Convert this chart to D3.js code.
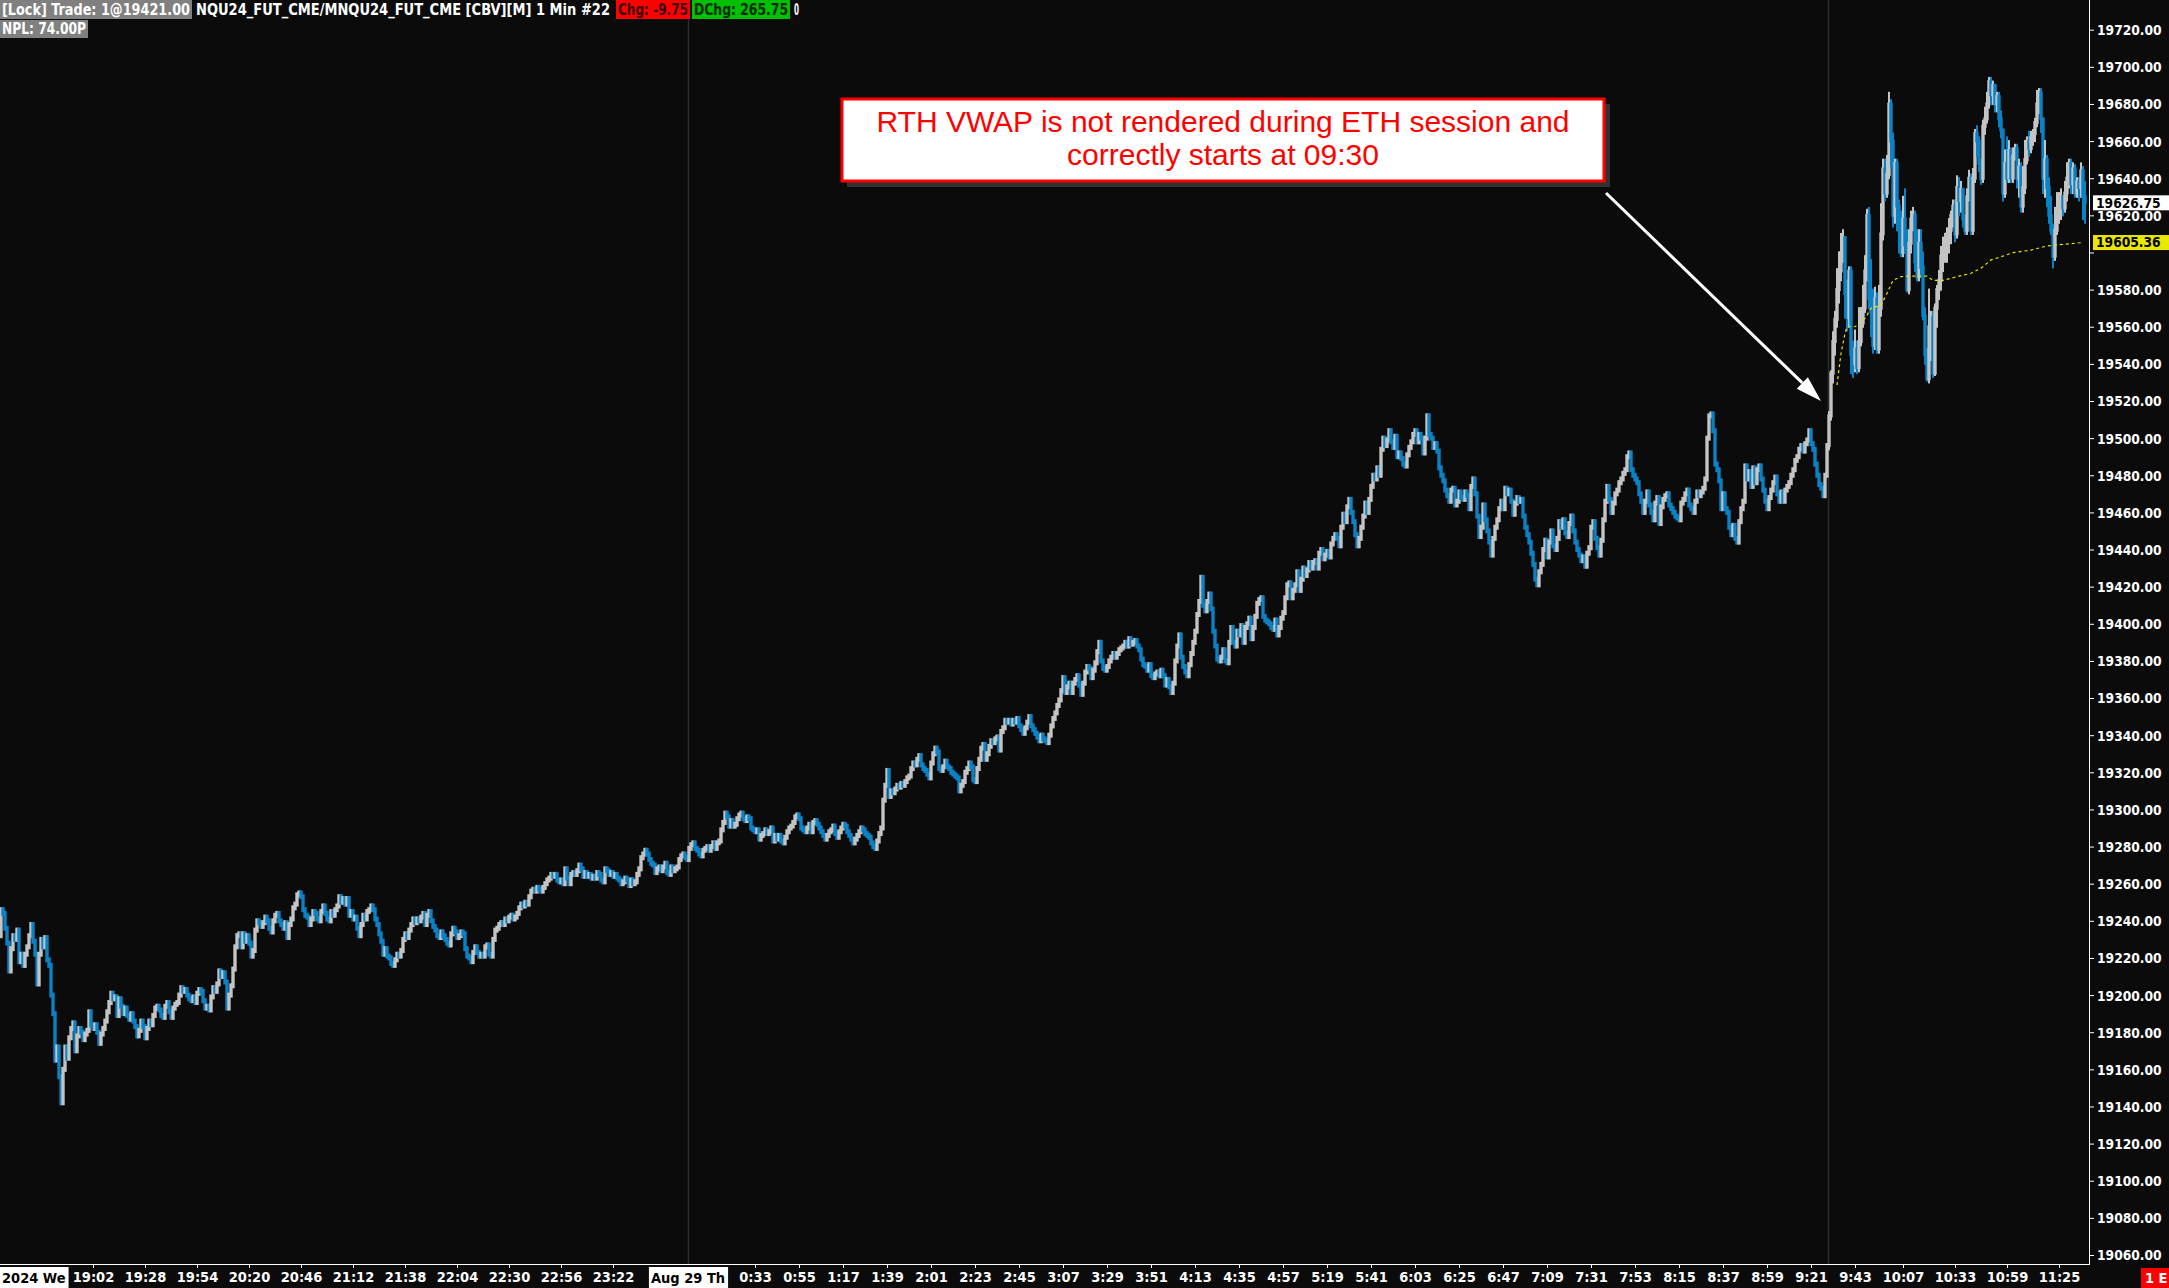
<!DOCTYPE html>
<html>
<head>
<meta charset="utf-8">
<script src="https://cdn.jsdelivr.net/npm/d3@7/dist/d3.min.js"></script>
<style>
  html, body { margin: 0; padding: 0; background: #0b0b0b; overflow: hidden; }
  svg { display: block; }
  .cond { font-family: "DejaVu Sans", Verdana, sans-serif; font-stretch: condensed; font-weight: bold; }
</style>
</head>
<body>
<div id="chart"></div>
<script>
// ---- data: 1 min closes, NQU24, Aug 28 18:16 -> Aug 29 11:38 ----
const firstOpen = 19232;
const sessionStart = "18:16";

const close1800 = [19246,19244,19236,19228,19213,19225,19232,19230,19235,19218,
  19222,19216,19222,19226,19232,19238,19229,19222,19206,19222,
  19230,19226,19231,19219,19216,19200,19190,19165,19172,19156,
  19142,19160,19172,19166,19177,19182,19185,19170,19178,19182,
  19180,19176,19179,19181];
const close1900 = [19191,19184,19182,19184,19180,19174,19179,19182,19186,19191,
  19196,19201,19198,19199,19189,19198,19194,19190,19193,19189,
  19187,19190,19186,19183,19178,19181,19186,19183,19177,19182,
  19186,19184,19189,19193,19194,19192,19189,19188,19194,19196,
  19191,19188,19193,19195,19196,19200,19204,19202,19203,19200,
  19198,19197,19199,19196,19201,19203,19202,19197,19193,19194];
const close2000 = [19192,19199,19204,19202,19206,19213,19210,19212,19207,19193,
  19200,19205,19214,19226,19232,19233,19226,19233,19229,19232,
  19228,19221,19224,19235,19240,19239,19237,19239,19242,19240,
  19236,19234,19240,19243,19244,19240,19238,19236,19239,19231,
  19238,19241,19247,19249,19254,19255,19253,19246,19243,19242,
  19238,19241,19245,19244,19241,19240,19245,19248,19244,19241];
const close2100 = [19240,19245,19243,19246,19248,19253,19250,19252,19249,19252,
  19243,19245,19241,19242,19236,19232,19238,19243,19241,19245,
  19246,19248,19246,19241,19238,19233,19229,19222,19225,19221,
  19220,19217,19216,19219,19222,19221,19224,19230,19233,19231,
  19235,19238,19241,19239,19241,19240,19242,19244,19238,19243,
  19245,19240,19237,19235,19232,19231,19234,19232,19230,19228];
const close2200 = [19227,19233,19236,19234,19231,19232,19234,19233,19225,19221,
  19220,19218,19223,19226,19223,19221,19222,19221,19226,19227,
  19222,19221,19230,19235,19236,19238,19239,19238,19241,19240,
  19242,19243,19241,19242,19244,19247,19249,19248,19250,19249,
  19253,19256,19257,19256,19258,19257,19256,19258,19260,19262,
  19263,19265,19264,19265,19262,19261,19262,19260,19268,19263];
const close2300 = [19260,19265,19266,19265,19267,19270,19268,19264,19266,19264,
  19265,19263,19264,19263,19266,19265,19262,19261,19268,19267,
  19265,19266,19264,19265,19263,19262,19260,19261,19263,19262,
  19259,19262,19260,19261,19265,19268,19274,19276,19278,19276,
  19273,19271,19270,19266,19268,19269,19267,19269,19271,19266,
  19265,19269,19267,19268,19269,19273,19275,19276,19274,19273];
const close0000 = [19279,19281,19282,19279,19278,19276,19275,19278,19279,19280,
  19278,19280,19282,19279,19282,19283,19289,19293,19298,19296,
  19291,19294,19291,19292,19295,19297,19298,19295,19294,19296,
  19295,19290,19289,19288,19289,19284,19286,19287,19289,19287,
  19288,19290,19283,19286,19284,19286,19283,19282,19285,19288,
  19290,19291,19293,19296,19297,19295,19290,19289,19288,19290];
const close0100 = [19292,19288,19293,19294,19292,19290,19288,19286,19284,19286,
  19288,19289,19291,19287,19285,19288,19290,19292,19291,19288,
  19286,19284,19282,19284,19286,19288,19290,19289,19287,19286,
  19285,19282,19280,19279,19283,19287,19290,19305,19313,19321,
  19307,19310,19309,19311,19313,19312,19314,19313,19315,19317,
  19318,19322,19325,19324,19327,19329,19324,19322,19321,19319];
const close0200 = [19317,19325,19330,19333,19331,19322,19321,19323,19326,19323,
  19322,19320,19319,19318,19317,19310,19313,19315,19320,19322,
  19325,19323,19316,19315,19322,19327,19333,19335,19327,19330,
  19334,19337,19336,19338,19339,19332,19342,19344,19348,19347,
  19348,19346,19348,19347,19349,19345,19343,19341,19344,19347,
  19350,19345,19343,19341,19339,19337,19340,19338,19337,19336];
const close0300 = [19340,19345,19349,19352,19356,19359,19364,19371,19363,19366,
  19368,19363,19368,19370,19372,19367,19362,19368,19374,19377,
  19376,19371,19375,19379,19385,19390,19380,19376,19375,19377,
  19380,19382,19384,19382,19384,19386,19387,19388,19390,19388,
  19392,19389,19390,19391,19388,19386,19381,19378,19377,19375,
  19378,19372,19371,19373,19374,19372,19375,19372,19367,19370];
const close0400 = [19366,19363,19368,19380,19388,19394,19382,19377,19374,19372,
  19378,19384,19390,19396,19405,19412,19425,19410,19407,19412,
  19416,19408,19396,19388,19381,19380,19382,19386,19380,19379,
  19390,19398,19390,19388,19396,19394,19399,19390,19398,19400,
  19403,19392,19398,19404,19411,19413,19414,19404,19402,19401,
  19400,19398,19397,19402,19394,19398,19403,19406,19414,19421];
const close0500 = [19422,19414,19418,19421,19428,19418,19424,19430,19426,19429,
  19433,19430,19433,19434,19430,19438,19440,19435,19437,19439,
  19436,19443,19446,19448,19446,19442,19452,19459,19455,19463,
  19467,19460,19455,19448,19442,19446,19452,19458,19465,19460,
  19467,19474,19480,19478,19484,19480,19494,19500,19496,19499,
  19504,19498,19495,19501,19490,19492,19489,19486,19485,19491];
const close0600 = [19495,19498,19502,19504,19498,19502,19500,19492,19500,19512,
  19502,19500,19495,19497,19493,19484,19480,19477,19472,19469,
  19466,19472,19473,19464,19466,19471,19468,19467,19471,19469,
  19462,19474,19478,19470,19458,19447,19452,19464,19456,19450,
  19444,19437,19446,19452,19456,19462,19466,19462,19473,19470,
  19472,19466,19459,19465,19468,19466,19467,19458,19452,19448];
const close0700 = [19444,19438,19432,19424,19421,19428,19432,19440,19445,19436,
  19444,19450,19442,19440,19446,19455,19452,19456,19449,19447,
  19454,19458,19450,19444,19440,19437,19434,19436,19431,19438,
  19441,19452,19455,19446,19441,19437,19445,19456,19466,19474,
  19467,19460,19465,19470,19472,19476,19478,19481,19483,19490,
  19492,19483,19480,19478,19476,19470,19466,19460,19466,19471];
const close0800 = [19464,19460,19456,19465,19468,19454,19463,19467,19469,19470,
  19464,19462,19460,19458,19457,19456,19465,19467,19470,19472,
  19464,19462,19460,19466,19471,19469,19471,19473,19478,19500,
  19512,19513,19504,19486,19483,19477,19462,19470,19462,19460,
  19452,19448,19453,19446,19444,19455,19462,19466,19485,19478,
  19482,19474,19484,19476,19483,19485,19478,19472,19466,19462];
const close0900 = [19468,19472,19476,19479,19470,19466,19471,19466,19472,19474,
  19476,19480,19483,19488,19490,19494,19496,19493,19497,19499,
  19504,19497,19494,19486,19480,19475,19473,19469,19480,19496];
// regular trading hours from 09:30 (closes, highs, lows)
const close0930 = [19512,19535,19552,19564,19580,19590,19600,19608,19578,19565,
  19590,19545,19540,19548,19538,19552,19562,19570,19590,19620,
  19575,19568,19550,19575,19548,19570,19610,19645,19632,19642];
const high0930 = [19514,19536,19557,19568,19591,19600,19610,19612,19608,19585,
  19592,19592,19552,19558,19552,19570,19570,19582,19598,19623,
  19624,19596,19580,19581,19578,19582,19626,19650,19650,19652];
const low0930 = [19494,19510,19530,19545,19560,19573,19585,19595,19565,19558,
  19560,19535,19533,19536,19535,19536,19550,19560,19568,19585,
  19570,19555,19546,19548,19546,19546,19566,19607,19628,19630];
const close1000 = [19680,19660,19620,19648,19625,19612,19600,19618,19604,19580,
  19605,19618,19620,19595,19587,19605,19592,19566,19545,19532,
  19560,19565,19535,19570,19580,19585,19598,19602,19606,19610,
  19612,19620,19625,19610,19635,19628,19634,19618,19612,19630,
  19640,19612,19640,19664,19660,19648,19640,19668,19672,19680,
  19692,19685,19690,19680,19684,19672,19666,19632,19648,19640];
const high1000 = [19686,19682,19664,19650,19650,19628,19622,19630,19634,19612,
  19612,19622,19624,19622,19612,19612,19612,19600,19570,19548,
  19580,19568,19568,19572,19582,19590,19603,19608,19610,19613,
  19618,19622,19628,19628,19641,19640,19638,19634,19620,19634,
  19644,19642,19645,19666,19668,19662,19650,19671,19678,19686,
  19694,19694,19692,19690,19686,19686,19676,19666,19655,19662];
const low1000 = [19640,19646,19614,19616,19612,19600,19598,19598,19600,19579,
  19578,19600,19612,19590,19585,19585,19588,19564,19540,19531,
  19530,19542,19533,19534,19560,19575,19580,19590,19595,19595,
  19600,19605,19614,19606,19608,19620,19622,19614,19610,19610,
  19628,19610,19610,19638,19652,19644,19637,19638,19664,19670,
  19678,19680,19680,19676,19676,19668,19662,19628,19630,19638];
const close1100 = [19655,19640,19652,19656,19640,19646,19625,19635,19650,19660,
  19656,19662,19664,19670,19680,19686,19672,19640,19650,19635,
  19620,19612,19598,19612,19620,19625,19630,19624,19632,19640,
  19648,19637,19645,19632,19638,19635,19644,19630,19626.75];
const high1100 = [19660,19656,19656,19658,19658,19650,19648,19646,19660,19662,
  19665,19665,19666,19672,19687,19688,19688,19672,19660,19652,
  19640,19630,19615,19624,19632,19632,19634,19630,19638,19648,
  19650,19650,19648,19647,19640,19640,19648,19646,19638];
const low1100 = [19638,19638,19638,19650,19635,19630,19622,19622,19632,19648,
  19652,19654,19658,19660,19668,19675,19665,19632,19630,19625,
  19616,19610,19592,19596,19610,19616,19618,19620,19622,19628,
  19635,19632,19632,19630,19630,19628,19630,19618,19616];

// RTH VWAP
const vwapTimes = ["9:34","9:36","9:38","9:39","9:43","9:48","9:51","9:56","9:59","10:02",
  "10:06","10:12","10:19","10:22","10:27","10:34","10:41","10:46","10:51","10:56",
  "11:02","11:11","11:19","11:27","11:37"];
const vwapValues = [19528.6,19545.6,19556.4,19560,19560,19564.5,19569.9,19571.7,19578,19585,
  19587,19587.3,19587.3,19585,19585,19587,19588.8,19591.5,19596,19597.7,
  19599.9,19601.3,19603.5,19604.4,19605.36];

const priceTicks = [19060,19080,19100,19120,19140,19160,19180,19200,19220,19240,19260,19280,
  19300,19320,19340,19360,19380,19400,19420,19440,19460,19480,19500,19520,19540,19560,
  19580,19600,19620,19640,19660,19680,19700,19720];
const timeTicks = ["19:02","19:28","19:54","20:20","20:46","21:12","21:38","22:04","22:30","22:56","23:22",
  "0:33","0:55","1:17","1:39","2:01","2:23","2:45","3:07","3:29","3:51","4:13","4:35","4:57",
  "5:19","5:41","6:03","6:25","6:47","7:09","7:31","7:53","8:15","8:37","8:59","9:21",
  "9:43","10:07","10:33","10:59","11:25"];
const dayBreak = "0:00";
const rthOpen = "9:30";
const dateLabel = "Aug 29  Th";
const prevDateLabel = "2024 We";

const headerParts = ["[Lock] Trade: 1@19421.00", "NQU24_FUT_CME/MNQU24_FUT_CME [CBV][M]  1 Min  #22",
  "Chg: -9.75", "DChg: 265.75", "0"];
const nplText = "NPL: 74.00P";
const noteLines = ["RTH VWAP is not rendered during ETH session and", "correctly starts at 09:30"];

// ---- setup ----
const W = 2169, H = 1288;
const plotRight = 2089, axisY = 1264;
const upColor = "#c4c4c4", downColor = "#0a82c6";

const closes = [].concat(close1800, close1900, close2000, close2100, close2200, close2300,
  close0000, close0100, close0200, close0300, close0400, close0500, close0600, close0700,
  close0800, close0900, close0930, close1000, close1100);
const rthHigh = [].concat(high0930, high1000, high1100);
const rthLow = [].concat(low0930, low1000, low1100);

function minutesOf(t) {
  const p = t.split(":");
  return (+p[0]) * 60 + (+p[1]);
}
const startMin = minutesOf(sessionStart);
function barOf(t) {
  let m = minutesOf(t) - startMin;
  if (m < 0) m += 1440;
  return m;
}
const rthIdx = barOf(rthOpen);

const bars = closes.map((c, i) => {
  const o = i === 0 ? firstOpen : closes[i - 1];
  const rth = i >= rthIdx;
  return {
    i: i, o: o, c: c, rth: rth,
    h: rth ? rthHigh[i - rthIdx] : Math.max(o, c),
    l: rth ? rthLow[i - rthIdx] : Math.min(o, c)
  };
});

const svg = d3.select("#chart").append("svg")
  .attr("width", W)
  .attr("height", H);

svg.append("rect").attr("width", W).attr("height", H).attr("fill", "#0b0b0b");

const x = d3.scaleLinear().domain([0, bars.length]).range([0, 2 * bars.length]);
const y = d3.scaleLinear().domain([19060, 19720]).range([1255, 29.7]);

// session separators
[dayBreak, rthOpen].forEach(t => {
  svg.append("line")
    .attr("x1", x(barOf(t)) + 0.5).attr("x2", x(barOf(t)) + 0.5)
    .attr("y1", 0).attr("y2", axisY)
    .attr("stroke", "#2c2c2c").attr("stroke-width", 1.5);
});

// candles (open = previous close); range bar + slightly wider body
const candle = svg.append("g")
  .selectAll("g")
  .data(bars)
  .enter()
  .append("g")
  .attr("fill", d => d.c >= d.o ? upColor : downColor);

candle.append("rect")
  .attr("x", d => x(d.i))
  .attr("width", d => x(d.i + 1) - x(d.i))
  .attr("y", d => y(d.h) - 1)
  .attr("height", d => y(d.l) - y(d.h) + 2);

// ETH bodies get a bit more padding so the thin session reads like the platform's bars
candle.append("rect")
  .attr("x", d => x(d.i) - 0.7)
  .attr("width", d => x(d.i + 1) - x(d.i) + 1.4)
  .attr("y", d => y(Math.max(d.o, d.c)) - (d.rth ? 1.5 : 2.5))
  .attr("height", d => Math.abs(y(d.o) - y(d.c)) + (d.rth ? 3 : 5));

// vwap
const vwap = vwapTimes.map((t, k) => ({ b: barOf(t), v: vwapValues[k] }));
svg.append("path")
  .datum(vwap)
  .attr("fill", "none")
  .attr("stroke", "#e6e600")
  .attr("stroke-width", 1.2)
  .attr("stroke-dasharray", "3,3")
  .attr("d", d3.line().x(d => x(d.b + 0.5)).y(d => y(d.v)));

// price axis
const yAxis = svg.append("g")
  .attr("class", "cond")
  .attr("transform", `translate(${plotRight},0)`)
  .call(d3.axisRight(y).tickValues(priceTicks).tickSize(5).tickPadding(3).tickFormat(d3.format(".2f")));
yAxis.select(".domain").remove();
yAxis.selectAll(".tick line").attr("stroke", "#ffffff");
yAxis.selectAll(".tick text").attr("fill", "#ffffff").attr("font-size", 13.7)
  .attr("font-family", null).attr("dy", "0.36em");

svg.append("line")
  .attr("x1", plotRight + 0.5).attr("x2", plotRight + 0.5)
  .attr("y1", 0).attr("y2", axisY)
  .attr("stroke", "#ffffff");

// time axis
const xAxis = svg.append("g")
  .attr("class", "cond")
  .attr("transform", `translate(0,${axisY})`)
  .call(d3.axisBottom(x)
    .tickValues(timeTicks.map(t => barOf(t) + 0.5))
    .tickSize(4).tickPadding(4)
    .tickFormat((d, k) => timeTicks[k]));
xAxis.select(".domain").remove();
xAxis.selectAll(".tick line").attr("stroke", "#ffffff");
xAxis.selectAll(".tick text").attr("fill", "#ffffff").attr("font-size", 14.5).attr("font-family", null);

svg.append("line")
  .attr("x1", 0).attr("x2", plotRight + 1)
  .attr("y1", axisY + 0.5).attr("y2", axisY + 0.5)
  .attr("stroke", "#ffffff");

// date boxes on the time axis
function dateBox(cx, label, anchorLeft) {
  const g = svg.append("g").attr("class", "cond");
  const t = g.append("text")
    .attr("y", axisY + 18.5)
    .attr("font-size", 14.5)
    .attr("fill", "#000")
    .text(label);
  const w = t.node().getComputedTextLength();
  const x0 = anchorLeft ? 0 : cx - w / 2 - 3;
  t.attr("x", x0 + 2);
  g.insert("rect", "text")
    .attr("x", x0).attr("y", axisY + 3)
    .attr("width", w + 5).attr("height", H - axisY - 3)
    .attr("fill", "#ffffff");
}
dateBox(0, prevDateLabel, true);
dateBox(x(barOf(dayBreak) + 0.5), dateLabel, false);

// "1 E" corner tag
svg.append("rect").attr("x", 2141).attr("y", axisY + 4).attr("width", W - 2141).attr("height", H - axisY - 4)
  .attr("fill", "#ff0000");
svg.append("text").attr("class", "cond").attr("x", 2145).attr("y", axisY + 19)
  .attr("font-size", 14.5).attr("fill", "#ffffff").text("1 E");

// last price + vwap tags (they sit on top of the axis labels, as in the platform)
function priceTag(v, txt, bg) {
  svg.append("rect")
    .attr("x", plotRight + 4).attr("y", y(v) - 7.5)
    .attr("width", W - plotRight - 4).attr("height", 15)
    .attr("fill", bg);
  svg.append("text")
    .attr("class", "cond")
    .attr("x", plotRight + 7).attr("y", y(v)).attr("dy", "0.36em")
    .attr("font-size", 13.7).attr("fill", "#000")
    .text(txt);
}
const lastClose = closes[closes.length - 1];
const lastVwap = vwapValues[vwapValues.length - 1];
yAxis.selectAll(".tick text").each(function (d) {
  const covered = [lastClose, lastVwap].some(v => Math.abs(y(v) - y(d)) < 12);
  if (covered) d3.select(this).attr("opacity", 0);
});
priceTag(lastClose, d3.format(".2f")(lastClose), "#ffffff");
priceTag(lastVwap, d3.format(".2f")(lastVwap), "#e8e800");

// header strip
const header = [
  { x: 0, w: 192, bg: "#808080", fg: "#ffffff" },
  { x: 194, w: 418, bg: null, fg: "#ffffff" },
  { x: 616, w: 74, bg: "#ff0000", fg: "#3a0000" },
  { x: 692, w: 98, bg: "#00c000", fg: "#002a00" },
  { x: 792, w: 9, bg: null, fg: "#ffffff" }
];
header.forEach((h, k) => {
  if (h.bg) svg.append("rect").attr("x", h.x).attr("y", 0).attr("width", h.w).attr("height", 19).attr("fill", h.bg);
  svg.append("text").attr("class", "cond")
    .attr("x", h.x + 2).attr("y", 14.5)
    .attr("font-size", 15).attr("fill", h.fg)
    .attr("textLength", h.w - 4).attr("lengthAdjust", "spacingAndGlyphs")
    .text(headerParts[k]);
});
svg.append("rect").attr("x", 0).attr("y", 20).attr("width", 88).attr("height", 18).attr("fill", "#808080");
svg.append("text").attr("class", "cond").attr("x", 2).attr("y", 34)
  .attr("font-size", 15).attr("fill", "#ffffff")
  .attr("textLength", 84).attr("lengthAdjust", "spacingAndGlyphs")
  .text(nplText);

// annotation
const note = svg.append("g");
note.append("rect").attr("x", 847).attr("y", 104).attr("width", 763).attr("height", 83)
  .attr("fill", "#3c3c3c").attr("opacity", 0.8);
note.append("rect").attr("x", 842).attr("y", 99).attr("width", 762).attr("height", 82)
  .attr("fill", "#ffffff").attr("stroke", "#ff0000").attr("stroke-width", 3);
noteLines.forEach((s, k) => {
  note.append("text")
    .attr("x", 1223).attr("y", 132 + k * 33.3)
    .attr("text-anchor", "middle")
    .attr("font-family", "'Liberation Sans', Arial, sans-serif")
    .attr("font-size", 30)
    .attr("fill", "#ff0000")
    .text(s);
});

// arrow
const ax0 = 1606, ay0 = 193, ax1 = 1821, ay1 = 401;
const ang = Math.atan2(ay1 - ay0, ax1 - ax0);
const hl = 26, hw = 8;
const bx = ax1 - hl * Math.cos(ang), by = ay1 - hl * Math.sin(ang);
note.append("line")
  .attr("x1", ax0).attr("y1", ay0).attr("x2", bx).attr("y2", by)
  .attr("stroke", "#ffffff").attr("stroke-width", 3);
note.append("path")
  .attr("d", `M${ax1},${ay1}L${bx + hw * Math.sin(ang)},${by - hw * Math.cos(ang)}L${bx - hw * Math.sin(ang)},${by + hw * Math.cos(ang)}Z`)
  .attr("fill", "#ffffff");
</script>
</body>
</html>
